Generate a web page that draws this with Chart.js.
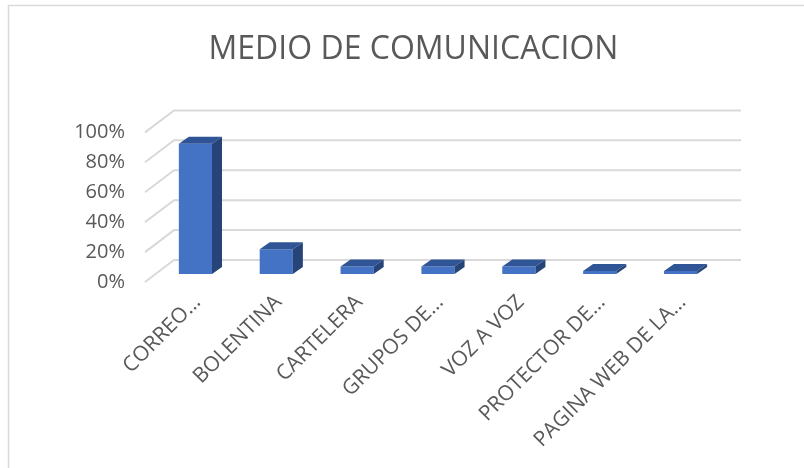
<!DOCTYPE html>
<html>
<head>
<meta charset="utf-8">
<script src="https://cdn.jsdelivr.net/npm/chart.js@4"></script>
<style>
  html, body { margin: 0; padding: 0; background: #fff; }
  #wrap { width: 804px; height: 468px; }
</style>
</head>
<body>
<div id="wrap"><canvas id="medioChart"></canvas></div>

<script>
  // data
  const categories = ["CORREO…", "BOLENTINA", "CARTELERA", "GRUPOS DE…", "VOZ A VOZ", "PROTECTOR DE…", "PAGINA WEB DE LA…"];
  const shares = [0.87, 0.165, 0.05, 0.05, 0.05, 0.02, 0.02];
  const yTicks = [0, 0.2, 0.4, 0.6, 0.8, 1];

  const textColor = "#595959";
  const gridColor = "#d9d9d9";
  const fontName = "'Open Sans', 'Noto Sans', sans-serif";

  // depth of the fake 3d box
  const front = {dx: -10, dy: 8};
  const back = {dx: 19, dy: -14};
  const barDepth = {dx: 10, dy: -7};

  const frame3d = {
    id: "frame3d",
    beforeDraw(chart) {
      const ctx = chart.ctx;
      ctx.save();
      ctx.strokeStyle = gridColor;
      ctx.lineWidth = 1.5;
      ctx.strokeRect(8.5, 5.5, 900, 600);
      ctx.restore();
    },
    beforeDatasetsDraw(chart) {
      const ctx = chart.ctx;
      const area = chart.chartArea;
      const y = chart.scales.y;
      ctx.save();
      ctx.strokeStyle = gridColor;
      ctx.lineWidth = 2;
      yTicks.forEach((v) => {
        const py = y.getPixelForValue(v);
        ctx.beginPath();
        ctx.moveTo(area.left + front.dx, py + front.dy);
        ctx.lineTo(area.left + back.dx, py + back.dy);
        ctx.lineTo(area.right + back.dx + 1, py + back.dy);
        ctx.stroke();
      });
      ctx.restore();
    },
    afterDatasetsDraw(chart) {
      const ctx = chart.ctx;
      const meta = chart.getDatasetMeta(0);
      ctx.save();
      meta.data.forEach((bar) => {
        const l = bar.x - bar.width / 2;
        const r = bar.x + bar.width / 2;
        const top = bar.y;
        const base = bar.base;
        // top face
        ctx.fillStyle = "#2f5597";
        ctx.beginPath();
        ctx.moveTo(l, top);
        ctx.lineTo(l + barDepth.dx, top + barDepth.dy);
        ctx.lineTo(r + barDepth.dx, top + barDepth.dy);
        ctx.lineTo(r, top);
        ctx.closePath();
        ctx.fill();
        // side face
        ctx.fillStyle = "#264478";
        ctx.beginPath();
        ctx.moveTo(r, top);
        ctx.lineTo(r + barDepth.dx, top + barDepth.dy);
        ctx.lineTo(r + barDepth.dx, base + barDepth.dy);
        ctx.lineTo(r, base);
        ctx.closePath();
        ctx.fill();
      });
      ctx.restore();
    }
  };

  new Chart("medioChart", {
    type: "bar",
    data: {
      labels: categories,
      datasets: [{
        data: shares,
        backgroundColor: "#4472c4",
        borderWidth: 0,
        categoryPercentage: 1,
        barPercentage: 0.41
      }]
    },
    options: {
      responsive: true,
      maintainAspectRatio: false,
      animation: false,
      layout: {
        padding: {left: 23, right: 0, top: 0, bottom: 0}
      },
      scales: {
        x: {
          grid: {display: false, drawTicks: false},
          border: {display: false},
          ticks: {
            color: textColor,
            font: {family: fontName, size: 21},
            minRotation: 45,
            maxRotation: 45,
            autoSkip: false,
            padding: 16,
            labelOffset: 2
          },
          afterFit(scale) {
            scale.height = 468 - 274;
          }
        },
        y: {
          min: 0,
          max: 1,
          grid: {display: false, drawTicks: false},
          border: {display: false},
          afterBuildTicks(scale) {
            scale.ticks = yTicks.map((v) => ({value: v}));
          },
          ticks: {
            color: textColor,
            font: {family: fontName, size: 20},
            padding: 30,
            labelOffset: 8,
            callback: (v) => Math.round(v * 100) + "%"
          },
          afterFit(scale) {
            scale.width = 155 - 23;
          }
        },
        // empty right axis, only keeps the room on the right
        yRight: {
          position: "right",
          min: 0,
          max: 1,
          grid: {display: false, drawTicks: false},
          border: {display: false},
          ticks: {display: false},
          afterFit(scale) {
            scale.width = 804 - 721;
          }
        }
      },
      plugins: {
        legend: {display: false},
        tooltip: {enabled: false},
        title: {
          display: true,
          text: "MEDIO DE COMUNICACION",
          color: textColor,
          font: {family: fontName, size: 32, weight: "normal"},
          padding: {top: 31, bottom: 55}
        }
      }
    },
    plugins: [frame3d]
  });
</script>
</body>
</html>
